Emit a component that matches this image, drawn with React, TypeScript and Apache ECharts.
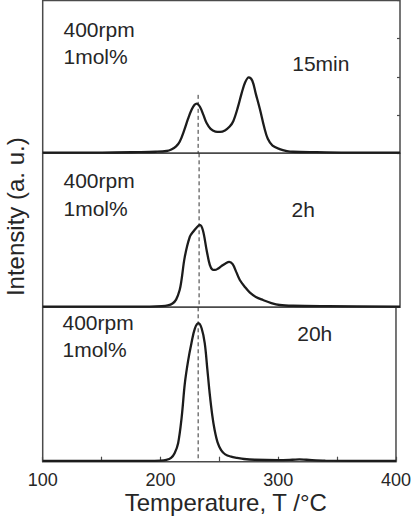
import React, { useEffect, useRef } from "react";
import * as echarts from "echarts";

// Temperature grid (°C) and intensities (a.u.)
const temp15min = [100, 150, 180, 195, 204, 208, 212, 215, 219, 222, 225, 227.5, 229.5, 232, 235, 237.5, 241, 245, 249, 253, 257, 260, 264, 267, 270, 273, 276, 279, 282.5, 286, 289, 293, 299, 305, 310, 330, 360, 400];
const int15min = [0.02, 0.02, 0.03, 0.04, 0.06, 0.1, 0.18, 0.3, 0.62, 0.9, 1.14, 1.27, 1.3, 1.22, 1.0, 0.8, 0.64, 0.57, 0.56, 0.6, 0.7, 0.84, 1.22, 1.57, 1.86, 1.99, 1.9, 1.55, 1.14, 0.68, 0.38, 0.2, 0.11, 0.06, 0.04, 0.03, 0.02, 0.02];

const temp2h = [100, 150, 190, 200, 205, 209, 212, 215, 216.5, 219.3, 223.5, 226.5, 229.5, 231.9, 234.5, 237.6, 240.3, 242.5, 244.5, 247, 250, 253.5, 256.6, 259.5, 262.5, 265.5, 270, 274, 279, 285, 292, 299, 310, 340, 400];
const int2h = [0.02, 0.02, 0.02, 0.03, 0.05, 0.1, 0.2, 0.45, 0.7, 1.31, 1.83, 1.97, 2.08, 2.14, 2.0, 1.49, 1.1, 0.98, 0.97, 1.0, 1.07, 1.14, 1.18, 1.12, 0.92, 0.71, 0.52, 0.38, 0.27, 0.19, 0.11, 0.06, 0.04, 0.03, 0.02];

const temp20h = [100, 150, 190, 200, 205, 209, 212, 215, 218, 220.7, 223.5, 226.3, 229.2, 232.3, 235, 237.6, 239.8, 241.8, 244, 246, 248.5, 251.5, 255, 260, 265, 271, 280, 300, 312, 318, 324, 340, 400];
const int20h = [0.02, 0.02, 0.02, 0.03, 0.05, 0.1, 0.22, 0.48, 1.15, 2.03, 2.62, 3.07, 3.45, 3.59, 3.45, 3.07, 2.4, 1.77, 1.2, 0.82, 0.5, 0.3, 0.19, 0.13, 0.1, 0.07, 0.05, 0.04, 0.05, 0.06, 0.05, 0.03, 0.02];

const panelTimes = ["15min", "2h", "20h"];
const conditionLines = ["400rpm", "1mol%"];
const dashedT = [230.5, 231.3, 232];
const dashedTop = [1.53, 4, 4];
const xTickLabels = [100, 200, 300, 400];

const zip = (xs: number[], ys: number[]) => xs.map((x, i) => [x, ys[i]]);

const FONT = "'Liberation Sans', Arial, Helvetica, sans-serif";
const FRAME = "#4a4a4a";
const CURVE = "#1c1c1c";
const TEXT = "#262626";

export default function App() {
  const ref = useRef<HTMLDivElement>(null);
  useEffect(() => {
    if (!ref.current) return;
    const chart = echarts.init(ref.current, undefined, { renderer: "svg" });
    const left = 42.7;
    const width = 357.3;
    const grids = [
      { left, width, top: 0.5, height: 152.8 },
      { left, width, top: 153.3, height: 154 },
      { left, width, top: 307.3, height: 154.4 },
    ].map((g) => ({ ...g, show: true, borderColor: FRAME, borderWidth: 1.5, backgroundColor: "transparent" }));

    const xAxes = [0, 1, 2].map((i) => ({
      type: "value",
      gridIndex: i,
      min: 100,
      max: 400,
      interval: 50,
      axisLine: { show: false },
      splitLine: { show: false },
      axisTick: { show: i === 2, inside: true, length: 5, lineStyle: { color: FRAME, width: 1.2 } },
      axisLabel: {
        show: i === 2,
        margin: 9,
        fontSize: 18,
        fontFamily: FONT,
        color: TEXT,
        formatter: (v: number) => (xTickLabels.includes(v) ? String(v) : ""),
      },
    }));

    const yAxes = [0, 1, 2].map((i) => ({
      type: "value",
      gridIndex: i,
      min: 0,
      max: 4,
      interval: 1,
      position: "right",
      axisLine: { show: false },
      splitLine: { show: false },
      axisLabel: { show: false },
      axisTick: { show: i === 0, inside: true, length: 3, lineStyle: { color: FRAME, width: 1.2 } },
    }));

    const curves = [zip(temp15min, int15min), zip(temp2h, int2h), zip(temp20h, int20h)];
    const series: any[] = [];
    curves.forEach((d, i) => {
      series.push({
        type: "line",
        xAxisIndex: i,
        yAxisIndex: i,
        data: [
          [dashedT[i], dashedTop[i]],
          [dashedT[i], 0],
        ],
        showSymbol: false,
        lineStyle: { color: "#333", width: 1, type: [4, 3] },
        z: 1,
      });
      series.push({
        type: "line",
        xAxisIndex: i,
        yAxisIndex: i,
        data: d,
        smooth: 0.35,
        showSymbol: false,
        lineStyle: { color: CURVE, width: 2.3 },
        z: 3,
      });
    });

    const textStyle = (s: string, x: number, y: number, size = 21, align = "left") => ({
      type: "text",
      x,
      y,
      style: { text: s, font: `${size}px ${FONT}`, fill: TEXT, align, verticalAlign: "middle" },
    });

    const condY = [
      [29, 56.3],
      [180.3, 208],
      [322.3, 349],
    ];
    const condX = [63.5, 63.5, 62.5];
    const timePos = [
      [292.2, 63],
      [291.5, 209.7],
      [297.2, 333],
    ];
    const graphics: any[] = [];
    for (let i = 0; i < 3; i++) {
      graphics.push(textStyle(conditionLines[0], condX[i], condY[i][0]));
      graphics.push(textStyle(conditionLines[1], condX[i], condY[i][1]));
      graphics.push(textStyle(panelTimes[i], timePos[i][0], timePos[i][1]));
    }
    graphics.push(textStyle("Temperature, T /°C", 225.8, 502.3, 24, "center"));
    graphics.push({
      type: "text",
      x: 15,
      y: 216.7,
      rotation: Math.PI / 2,
      style: { text: "Intensity (a. u.)", font: `24px ${FONT}`, fill: TEXT, align: "center", verticalAlign: "middle" },
    });

    chart.setOption({
      animation: false,
      backgroundColor: "#ffffff",
      grid: grids,
      xAxis: xAxes,
      yAxis: yAxes,
      series,
      graphic: graphics,
    });
    return () => chart.dispose();
  }, []);
  return <div ref={ref} style={{ position: "fixed", left: 0, top: 0, width: 414, height: 516 }} />;
}
